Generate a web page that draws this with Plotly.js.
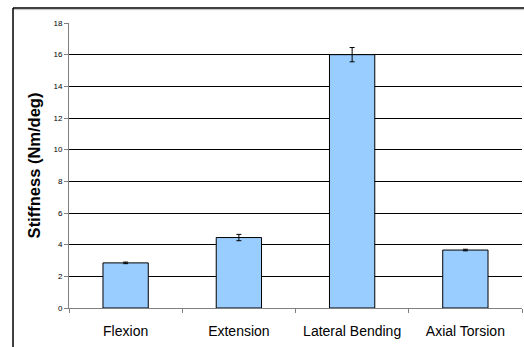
<!DOCTYPE html>
<html>
<head>
<meta charset="utf-8">
<script src="https://cdn.plot.ly/plotly-3.0.1.min.js"></script>
<style>html,body{margin:0;padding:0;background:#fff;}#chart{width:524px;height:347px;}</style>
</head>
<body>
<div id="chart"></div>
<script>
const categories = ["Flexion", "Extension", "Lateral Bending", "Axial Torsion"];
const stiffness = [2.85, 4.45, 16.0, 3.66];
const stiffnessErr = [0.05, 0.2, 0.45, 0.05];
const yTickVals = [0, 2, 4, 6, 8, 10, 12, 14, 16, 18];

const trace = {
  type: "bar",
  x: categories,
  y: stiffness,
  width: 0.4,
  marker: {color: "#99CCFF", line: {color: "#000000", width: 1}},
  error_y: {type: "data", array: stiffnessErr, visible: true, color: "#000000", thickness: 1, width: 2.5},
  hoverinfo: "none"
};

const layout = {
  width: 524, height: 347,
  margin: {l: 69, r: 2, t: 23, b: 39, pad: 0},
  paper_bgcolor: "#ffffff", plot_bgcolor: "#ffffff",
  showlegend: false,
  font: {family: "Liberation Sans, Arial, sans-serif", color: "#000000"},
  xaxis: {
    type: "category",
    tickson: "boundaries",
    ticks: "outside", ticklen: 4, tickcolor: "#808080", tickwidth: 1,
    showgrid: false, showline: true, linecolor: "#808080", linewidth: 1,
    tickfont: {size: 14, color: "#000000"},
    ticklabelstandoff: 10,
    range: [-0.5, 3.5], fixedrange: true
  },
  yaxis: {
    range: [0, 18], tickvals: yTickVals,
    ticks: "outside", ticklen: 4, tickcolor: "#808080", tickwidth: 1,
    showline: true, linecolor: "#808080", linewidth: 1,
    showgrid: true, gridcolor: "#000000", gridwidth: 1,
    zeroline: false,
    tickfont: {size: 8, color: "#000000"},
    title: {text: "Stiffness (Nm/deg)", font: {size: 16.5, weight: "bold", color: "#000000"}, standoff: 8},
    fixedrange: true
  },
  shapes: [
    {type: "line", xref: "paper", yref: "paper", x0: -0.1236, x1: 1.01, y0: 1.0526, y1: 1.0526, line: {color: "#000000", width: 1.5}},
    {type: "line", xref: "paper", yref: "paper", x0: -0.1236, x1: 1.01, y0: 1.047, y1: 1.047, line: {color: "#c0c0c0", width: 1}},
    {type: "line", xref: "paper", yref: "paper", x0: -0.1236, x1: -0.1236, y0: 1.0526, y1: -0.15, line: {color: "#000000", width: 1.5}}
  ]
};

Plotly.newPlot("chart", [trace], layout, {displayModeBar: false, staticPlot: true});
</script>
</body>
</html>
